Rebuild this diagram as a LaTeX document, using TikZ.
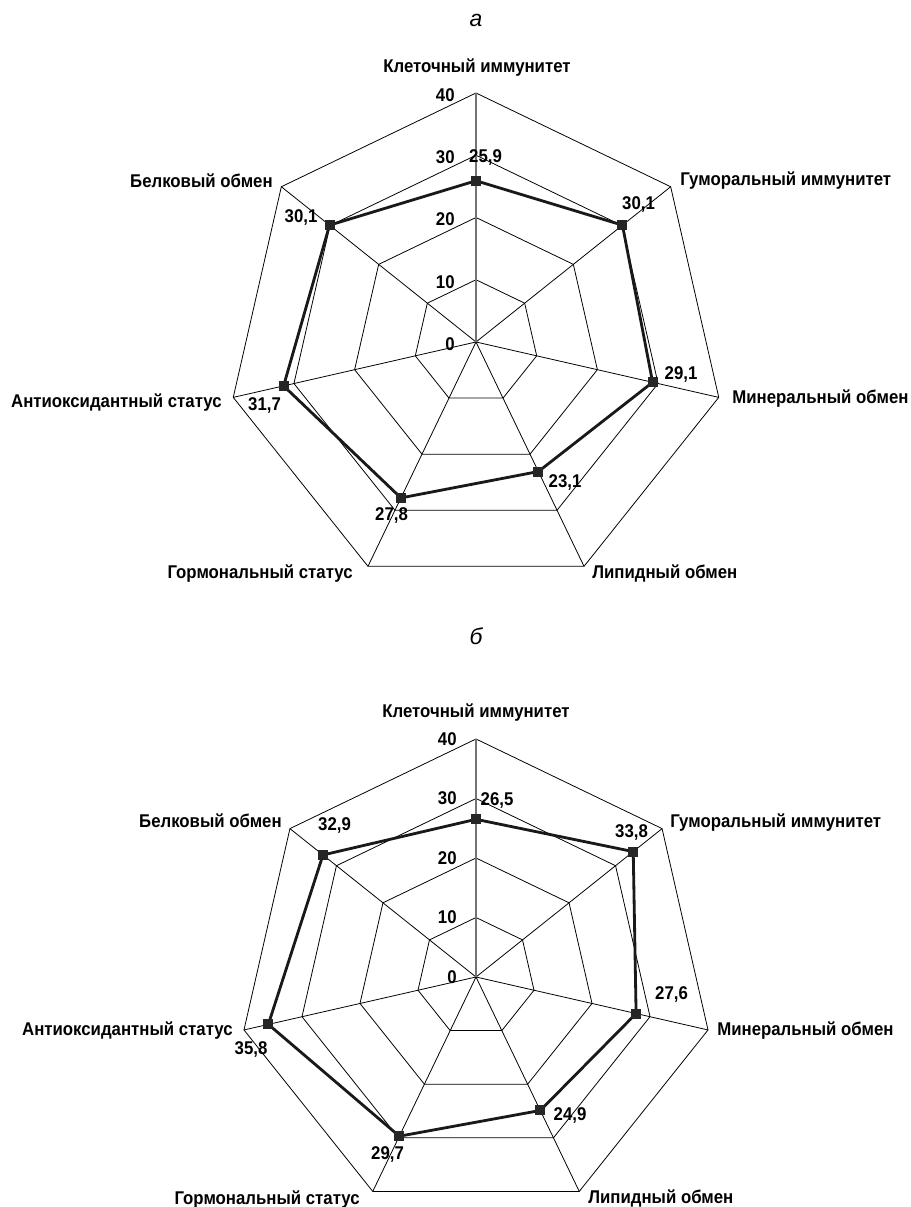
\documentclass[tikz,border=0pt]{standalone}
\usepackage{fontspec}
\setmainfont{Liberation Sans}
\newfontfamily\labfont{Liberation Sans}[FakeStretch=0.91]
\begin{document}
\begin{tikzpicture}[x=0.02cm,y=0.02cm,
  grid/.style={line width=0.45pt,black},
  mainaxis/.style={line width=1pt,black!55},
  series/.style={line width=1.6pt,black!90,line join=miter},
  mk/.style={rectangle,fill=black!85,inner sep=0pt,minimum size=0.2cm},
  lab/.style={font=\labfont\fontsize{10.5}{12}\selectfont\bfseries,inner sep=0pt},
  vallab/.style={lab,anchor=base},
  ticklab/.style={lab,anchor=base east},
  ttl/.style={font=\fontsize{13}{15}\selectfont\itshape,inner sep=0pt,anchor=base}]
\useasboundingbox (0,0) rectangle (911,1207);

% ---------------- chart a ----------------
\node[ttl] (ta) at (476,1180) {а};
\begin{scope}[shift={(476,865)}]
  \foreach \l in {1,2,3,4}
    \draw[grid] (90:{249*\l/4}) \foreach \k in {1,...,6}{ -- ({90-\k*360/7}:{249*\l/4}) } -- cycle;
  \foreach \k in {1,...,6}
    \draw[grid] (0,0) -- ({90-\k*360/7}:249);
  \draw[mainaxis] (0,0) -- (90:249);
  \foreach \l in {0,...,4}
    \node[ticklab] (tka\l) at (-21,{62.25*\l-8.5}) {\pgfmathparse{int(10*\l)}\pgfmathresult};
  \foreach \k/\v in {0/25.9,1/30.1,2/29.1,3/23.1,4/27.8,5/31.7,6/30.1}
    \coordinate (pa\k) at ({90-\k*360/7}:{\v*249/40});
  \draw[series] (pa0) -- (pa1) -- (pa2) -- (pa3) -- (pa4) -- (pa5) -- (pa6) -- cycle;
  \foreach \k in {0,...,6}
    \node[mk] (ma\k) at (pa\k) {};
\end{scope}
\node[lab,anchor=base] (la0) at (477,1134) {Клеточный иммунитет};
\node[lab,anchor=base west] (la1) at (680,1021) {Гуморальный иммунитет};
\node[lab,anchor=base west] (la2) at (732,803) {Минеральный обмен};
\node[lab,anchor=base west] (la3) at (592,628) {Липидный обмен};
\node[lab,anchor=base east] (la4) at (353,628) {Гормональный статус};
\node[lab,anchor=base east] (la5) at (222,799) {Антиоксидантный статус};
\node[lab,anchor=base east] (la6) at (273,1019) {Белковый обмен};
\node[vallab] (va0) at (485.5,1044) {25,9};
\node[vallab] (va1) at (638.5,997.5) {30,1};
\node[vallab] (va2) at (681,827.5) {29,1};
\node[vallab] (va3) at (565,719) {23,1};
\node[vallab] (va4) at (391.5,686) {27,8};
\node[vallab] (va5) at (264.5,796) {31,7};
\node[vallab] (va6) at (301,984) {30,1};

% ---------------- chart b ----------------
\node[ttl] (tb) at (476,562) {б};
\begin{scope}[shift={(476,230)}]
  \foreach \l in {1,2,3,4}
    \draw[grid] (90:{238*\l/4}) \foreach \k in {1,...,6}{ -- ({90-\k*360/7}:{238*\l/4}) } -- cycle;
  \foreach \k in {1,...,6}
    \draw[grid] (0,0) -- ({90-\k*360/7}:238);
  \draw[mainaxis] (0,0) -- (90:238);
  \foreach \l in {0,...,4}
    \node[ticklab] (tkb\l) at (-19,{59.5*\l-6.5}) {\pgfmathparse{int(10*\l)}\pgfmathresult};
  \foreach \k/\v in {0/26.5,1/33.8,2/27.6,3/24.9,4/29.7,5/35.8,6/32.9}
    \coordinate (pb\k) at ({90-\k*360/7}:{\v*238/40});
  \draw[series] (pb0) -- (pb1) -- (pb2) -- (pb3) -- (pb4) -- (pb5) -- (pb6) -- cycle;
  \foreach \k in {0,...,6}
    \node[mk] (mb\k) at (pb\k) {};
\end{scope}
\node[lab,anchor=base] (lb0) at (476,489) {Клеточный иммунитет};
\node[lab,anchor=base west] (lb1) at (670,379) {Гуморальный иммунитет};
\node[lab,anchor=base west] (lb2) at (717,171) {Минеральный обмен};
\node[lab,anchor=base west] (lb3) at (588,4) {Липидный обмен};
\node[lab,anchor=base east] (lb4) at (360,3) {Гормональный статус};
\node[lab,anchor=base east] (lb5) at (233,171) {Антиоксидантный статус};
\node[lab,anchor=base east] (lb6) at (282,379) {Белковый обмен};
\node[vallab] (vb0) at (497,401) {26,5};
\node[vallab] (vb1) at (631.5,369) {33,8};
\node[vallab] (vb2) at (671.5,207.5) {27,6};
\node[vallab] (vb3) at (570,86) {24,9};
\node[vallab] (vb4) at (387.5,47.5) {29,7};
\node[vallab] (vb5) at (251,152.5) {35,8};
\node[vallab] (vb6) at (334.5,376) {32,9};
\end{tikzpicture}
\end{document}
